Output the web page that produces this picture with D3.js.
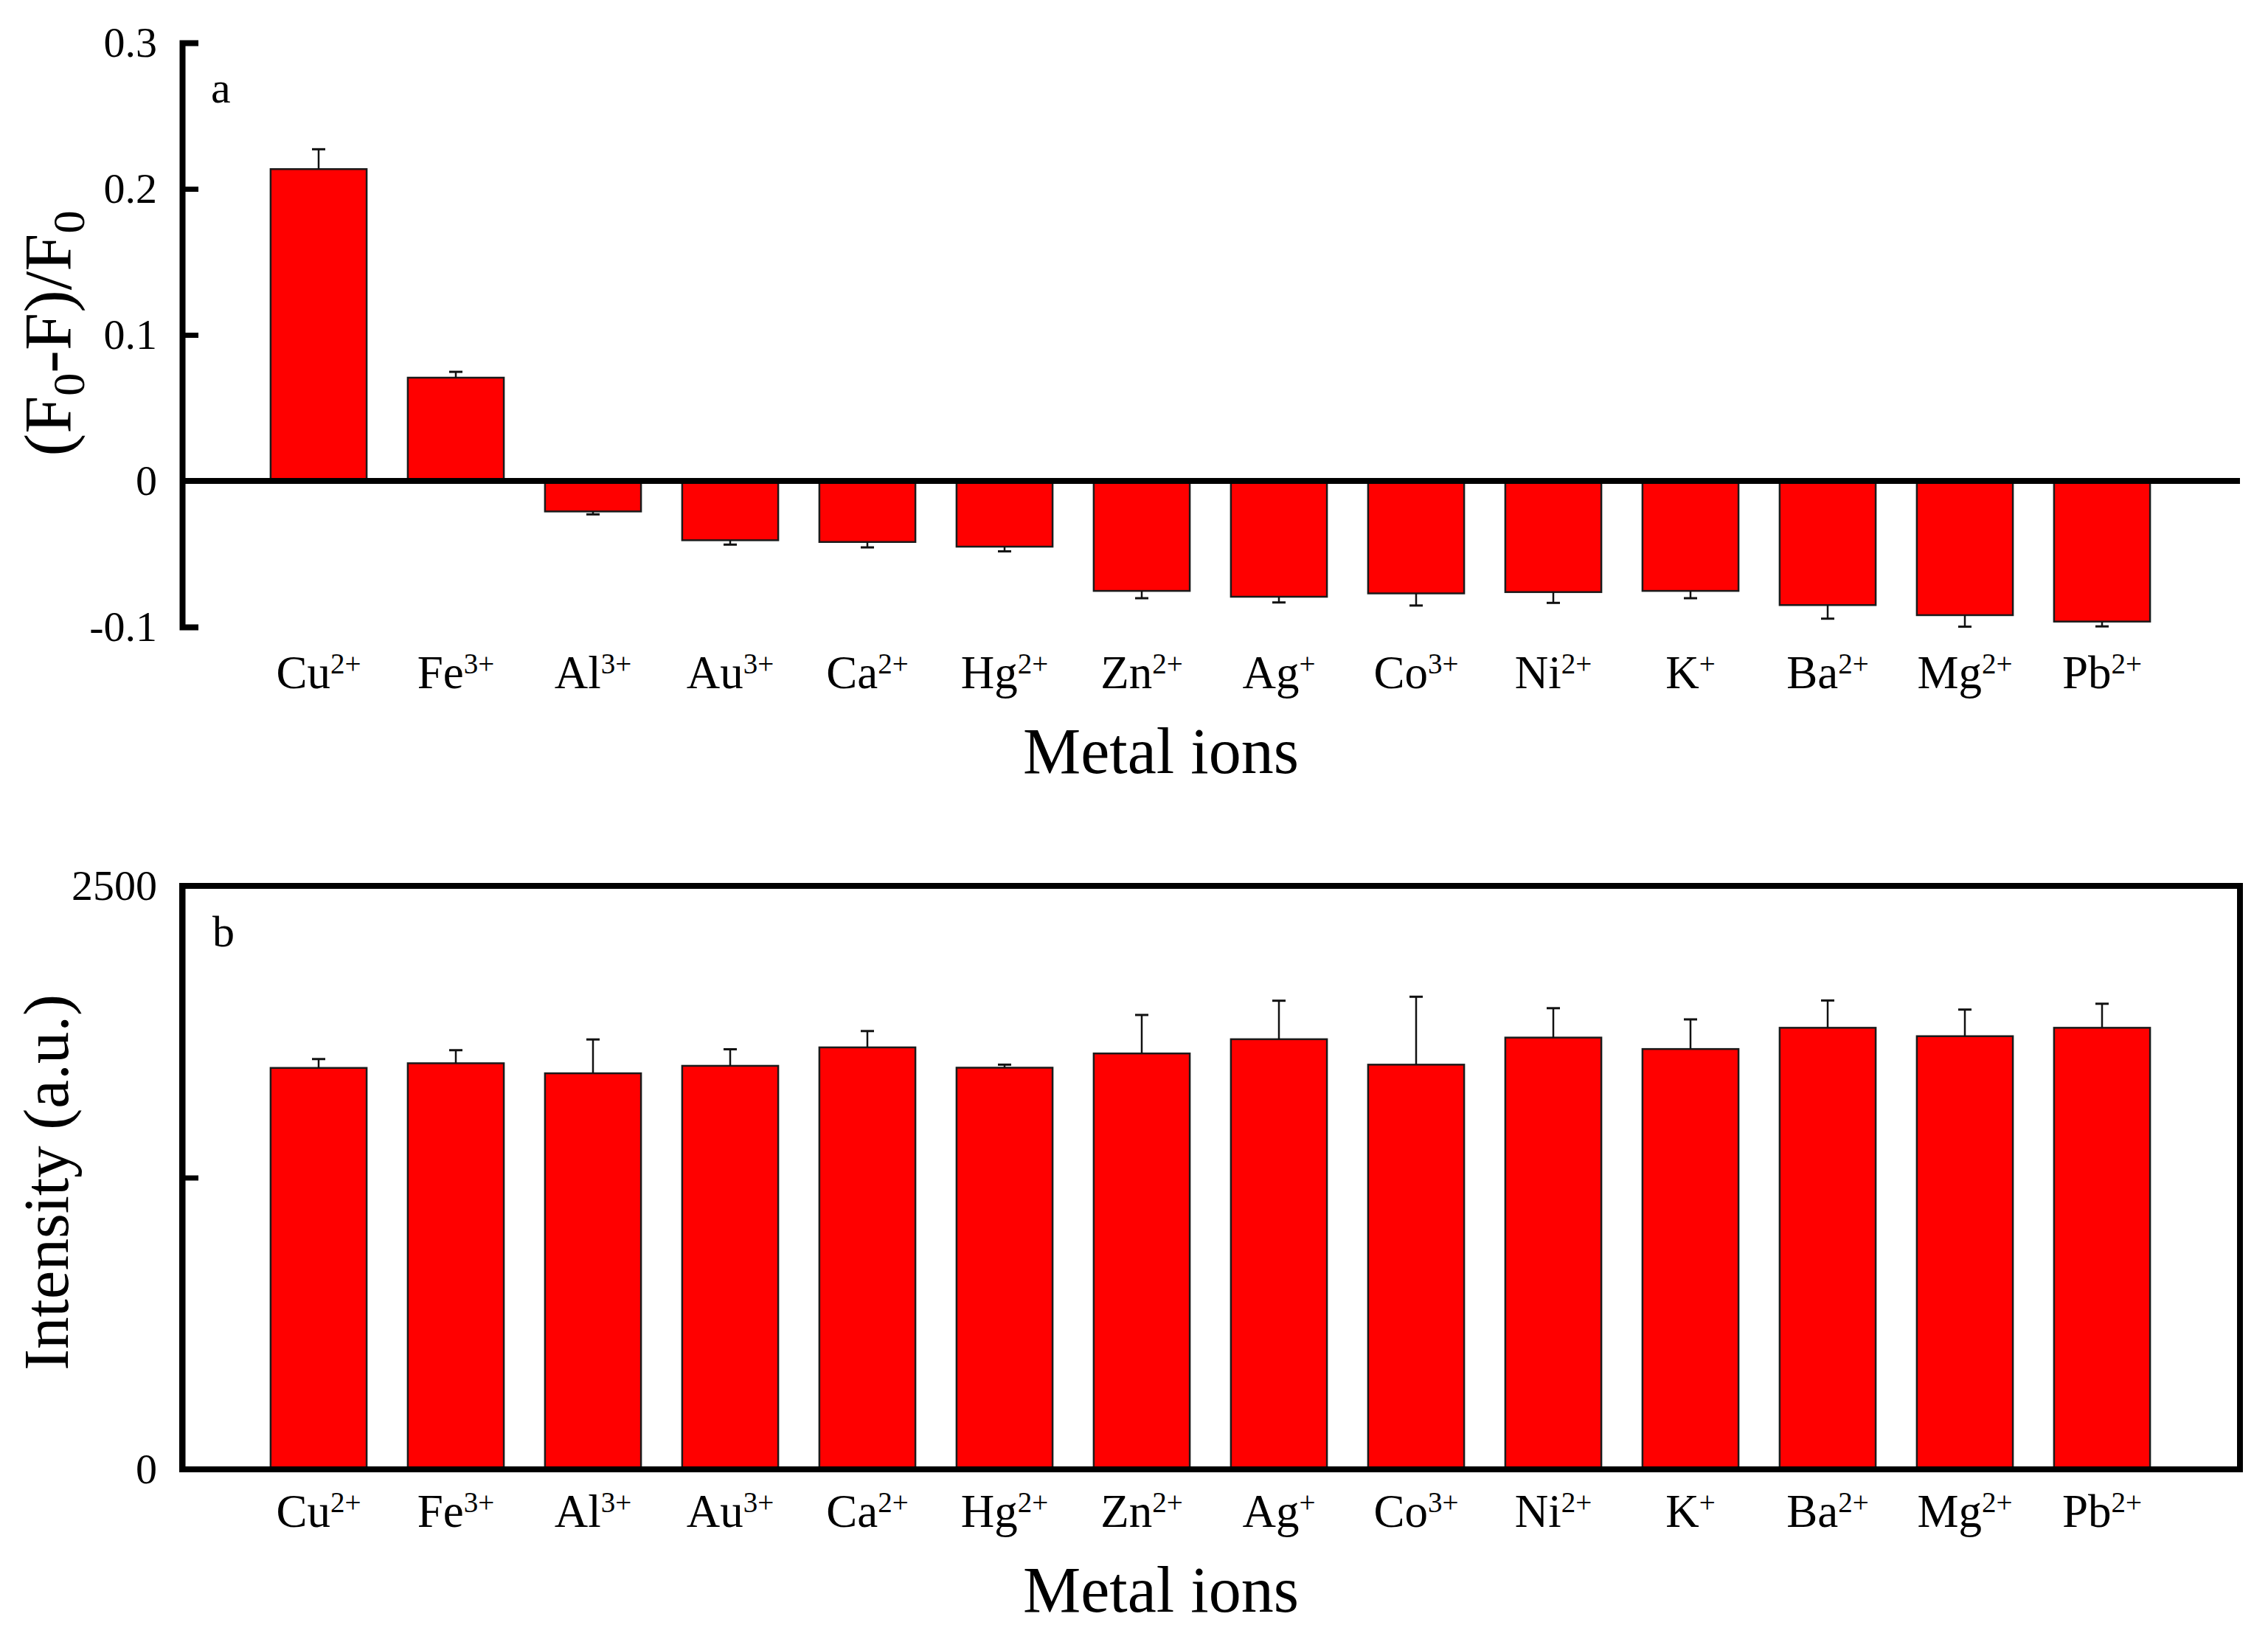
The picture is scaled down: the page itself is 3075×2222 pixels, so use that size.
<!DOCTYPE html>
<html>
<head>
<meta charset="utf-8">
<script src="https://cdn.jsdelivr.net/npm/d3@7"></script>
<style>
  html, body { margin: 0; padding: 0; background: #fff; }
  text { font-family: "Liberation Serif", "Times New Roman", serif; fill: #000; }
</style>
</head>
<body>
<svg id="chart" width="3075" height="2222"></svg>
<script>
// metal ions on the x axis (symbol + charge as superscript)
const ions = ["Cu", "Fe", "Al", "Au", "Ca", "Hg", "Zn", "Ag", "Co", "Ni", "K", "Ba", "Mg", "Pb"];
const charges = ["2+", "3+", "3+", "3+", "2+", "2+", "2+", "+", "3+", "2+", "+", "2+", "2+", "2+"];

// panel a: (F0-F)/F0
const quench = [0.2135, 0.0707, -0.0209, -0.0406, -0.0418, -0.0450, -0.0753, -0.0793, -0.0770, -0.0761, -0.0753, -0.0850, -0.0919, -0.0963];
const quenchErr = [0.0136, 0.0040, 0.0020, 0.0030, 0.0037, 0.0032, 0.0050, 0.0039, 0.0083, 0.0074, 0.0050, 0.0093, 0.0079, 0.0033];
const quenchTicks = [-0.1, 0, 0.1, 0.2, 0.3];

// panel b: intensity (a.u.)
const intensity = [1720, 1740, 1697, 1729, 1808, 1721, 1782, 1843, 1734, 1850, 1801, 1892, 1856, 1892];
const intensityErr = [38, 56, 145, 71, 70, 13, 165, 165, 291, 126, 127, 117, 114, 103];
const intensityTicks = [0, 1250, 2500];
const intensityLabels = ["0", "", "2500"];

const svg = d3.select("#chart");
const axisX0 = 247, axisX1 = 3037;

const x = d3.scaleBand()
    .domain(ions)
    .range([339, 2943])
    .paddingInner(0.3)
    .paddingOuter(0.15);

function addIonLabels(g, baseY) {
    ions.forEach((ion, i) => {
        let t = g.append("text")
            .attr("x", x(ion) + x.bandwidth() / 2)
            .attr("y", baseY)
            .attr("text-anchor", "middle")
            .style("font-size", "63px");
        t.append("tspan").text(ion);
        t.append("tspan")
            .attr("dy", -20)
            .style("font-size", "39px")
            .text(charges[i]);
    });
}

function drawBars(g, values, errs, y) {
    let data = ions.map((ion, i) => ({ ion, v: values[i], e: errs[i] }));

    g.selectAll("rect.bar")
        .data(data)
        .join("rect")
        .attr("class", "bar")
        .attr("x", (d) => x(d.ion))
        .attr("width", x.bandwidth())
        .attr("y", (d) => y(Math.max(0, d.v)))
        .attr("height", (d) => Math.abs(y(d.v) - y(0)))
        .attr("fill", "#ff0000")
        .attr("stroke", "#1a1a1a")
        .attr("stroke-width", 2.5);

    // one-sided error bars, pointing away from zero
    let tip = (d) => y(d.v + (d.v >= 0 ? d.e : -d.e));
    let cx = (d) => x(d.ion) + x.bandwidth() / 2;

    g.selectAll("line.err")
        .data(data)
        .join("line")
        .attr("class", "err")
        .attr("x1", cx).attr("x2", cx)
        .attr("y1", (d) => y(d.v)).attr("y2", tip)
        .attr("stroke", "#111").attr("stroke-width", 2.5);

    g.selectAll("line.cap")
        .data(data)
        .join("line")
        .attr("class", "cap")
        .attr("x1", (d) => cx(d) - 9).attr("x2", (d) => cx(d) + 9)
        .attr("y1", tip).attr("y2", tip)
        .attr("stroke", "#111").attr("stroke-width", 3);
}

function styleAxis(g) {
    g.select(".domain").attr("stroke", "#000").attr("stroke-width", 8).attr("fill", "none");
    g.selectAll(".tick line").attr("stroke", "#000").attr("stroke-width", 7);
    g.selectAll(".tick text").style("font-size", "58px").attr("fill", "#000");
}

// ---------- panel a ----------
const ya = d3.scaleLinear().domain([-0.1, 0.3]).range([850, 58]);
const ga = svg.append("g");

drawBars(ga, quench, quenchErr, ya);

ga.append("line")
    .attr("x1", axisX0).attr("x2", axisX1)
    .attr("y1", ya(0)).attr("y2", ya(0))
    .attr("stroke", "#000").attr("stroke-width", 8);

const axisA = ga.append("g")
    .attr("transform", `translate(${axisX0},0)`)
    .call(d3.axisLeft(ya)
        .tickValues(quenchTicks)
        .tickSizeInner(-22)
        .tickSizeOuter(-22)
        .tickPadding(34)
        .tickFormat((d) => (d === 0 ? "0" : d.toFixed(1))));
styleAxis(axisA);

ga.append("text").attr("x", 286).attr("y", 139).style("font-size", "60px").text("a");

addIonLabels(ga, 933);

ga.append("text")
    .attr("x", 1574).attr("y", 1048)
    .attr("text-anchor", "middle")
    .style("font-size", "88px")
    .text("Metal ions");

const ylabA = ga.append("text")
    .attr("transform", "translate(96,452) rotate(-90)")
    .attr("text-anchor", "middle")
    .style("font-size", "92px");
ylabA.append("tspan").text("(F");
ylabA.append("tspan").attr("dy", 18).style("font-size", "62px").text("0");
ylabA.append("tspan").attr("dy", -18).text("-F)/F");
ylabA.append("tspan").attr("dy", 18).style("font-size", "62px").text("0");

// ---------- panel b ----------
const yb = d3.scaleLinear().domain([0, 2500]).range([1992, 1201]);
const gb = svg.append("g");

drawBars(gb, intensity, intensityErr, yb);

gb.append("rect")
    .attr("x", axisX0).attr("y", yb(2500))
    .attr("width", axisX1 - axisX0).attr("height", yb(0) - yb(2500))
    .attr("fill", "none").attr("stroke", "#000").attr("stroke-width", 8);

const axisB = gb.append("g")
    .attr("transform", `translate(${axisX0},0)`)
    .call(d3.axisLeft(yb)
        .tickValues(intensityTicks)
        .tickSizeInner(-22)
        .tickSizeOuter(0)
        .tickPadding(34)
        .tickFormat((d, i) => intensityLabels[i]));
styleAxis(axisB);

gb.append("text").attr("x", 288).attr("y", 1283).style("font-size", "60px").text("b");

addIonLabels(gb, 2070);

gb.append("text")
    .attr("x", 1574).attr("y", 2185)
    .attr("text-anchor", "middle")
    .style("font-size", "88px")
    .text("Metal ions");

gb.append("text")
    .attr("transform", "translate(92,1603) rotate(-90)")
    .attr("text-anchor", "middle")
    .style("font-size", "87px")
    .text("Intensity (a.u.)");
</script>
</body>
</html>
